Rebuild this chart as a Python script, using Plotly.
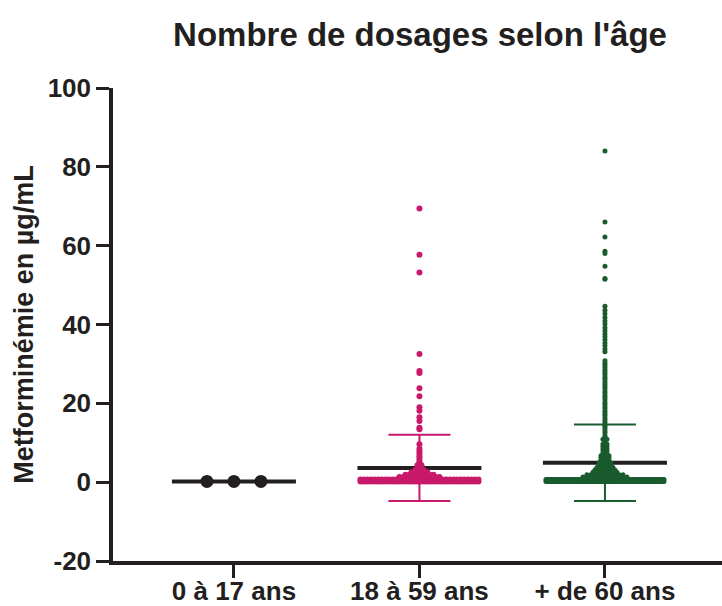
import plotly.graph_objects as go

# ---------------- data ----------------
age_groups = ["0 à 17 ans", "18 à 59 ans", "+ de 60 ans"]

# each value is a row of the scatter; count = number of dosages at that value
kids_vals = [0.2]
kids_counts = [3]

adult_vals = [0.2, 0.7, 1.3, 1.9, 2.5, 3.1, 3.7, 4.3, 4.9, 5.4, 6.0, 6.6, 7.2,
              7.8, 8.5, 9.6, 13.4, 13.8, 15.5, 16.5, 18.1, 19.0, 21.8, 23.8,
              27.7, 28.2, 32.5, 53.2, 57.7, 69.4]
adult_counts = [38, 34, 11, 8, 5, 3, 1, 2, 1, 1, 1, 1, 1,
                1, 1, 1, 1, 1, 1, 1, 1, 1, 1, 1,
                1, 1, 1, 1, 1, 1]

senior_vals = [0.2, 0.7, 1.3, 1.9, 2.5, 3.1, 3.7, 4.3, 4.9, 5.5, 6.1, 6.7, 7.3,
               7.9, 8.5, 9.1, 9.7, 10.3, 10.9, 11.4, 11.8, 12.5, 13.0, 13.6,
               14.1, 14.5, 15.2, 15.8, 16.3, 16.9, 17.4, 18.0, 18.6, 19.1,
               19.7, 20.2, 20.9, 21.5, 22.0, 22.6, 23.1, 23.8, 24.4, 24.9,
               25.5, 26.1, 26.6, 27.3, 27.8, 28.4, 29.0, 29.6, 30.2, 30.8,
               33.1, 33.8, 34.6, 35.3, 36.1, 36.9, 37.6, 38.4, 39.2, 40.1,
               40.9, 41.8, 42.7, 43.6, 44.6, 51.5, 51.7, 54.8, 58.0, 58.6,
               62.2, 66.0, 84.0]
senior_counts = [90, 80, 12, 10, 7, 6, 5, 4, 4, 3, 3, 3, 2,
                 2, 2, 2, 2, 1, 2, 1, 1, 1, 1, 1,
                 1, 1, 1, 1, 1, 1, 1, 1, 1, 1,
                 1, 1, 1, 1, 1, 1, 1, 1, 1, 1,
                 1, 1, 1, 1, 1, 1, 1, 1, 1, 1,
                 1, 1, 1, 1, 1, 1, 1, 1, 1, 1,
                 1, 1, 1, 1, 1, 1, 1, 1, 1, 1,
                 1, 1, 1]

group_means = [0.2, 3.6, 4.9]
group_sds = [0.0, 8.4, 9.7]

y_ticks = [-20, 0, 20, 40, 60, 80, 100]
y_tick_labels = ["-20", "0", "20", "40", "60", "80", "100"]

# ---------------- styling ----------------
W, H = 722, 606
ML, MR, MT, MB = 113, 0, 88, 45
X_RANGE = [-0.652, 2.631]
PX_PER_UNIT = (W - ML - MR) / (X_RANGE[1] - X_RANGE[0])

INK = "#231F20"
colors = [INK, "#C8196B", "#1A5B2E"]
marker_sizes = [13, 6, 5]
dot_step_px = [27, 4, 4]
HALF_BAND_PX = 59
MEAN_HALF_PX = 62
FONT = "Liberation Sans, Arial, Helvetica, sans-serif"

groups = [(kids_vals, kids_counts), (adult_vals, adult_counts),
          (senior_vals, senior_counts)]


def swarm(center, vals, counts, step_px):
    xs, ys = [], []
    for v, n in zip(vals, counts):
        step = step_px
        if n > 1:
            step = min(step_px, 2 * HALF_BAND_PX / (n - 1))
        for k in range(n):
            xs.append(center + (k - (n - 1) / 2) * step / PX_PER_UNIT)
            ys.append(v)
    return xs, ys


fig = go.Figure()

for i, (vals, counts) in enumerate(groups):
    # SD error bar
    fig.add_trace(go.Scatter(
        x=[i], y=[group_means[i]], mode="markers",
        marker=dict(size=1, color="rgba(0,0,0,0)"),
        error_y=dict(type="data", array=[group_sds[i]], symmetric=True,
                     color=colors[i], thickness=2, width=31),
        showlegend=False, hoverinfo="skip"))
    # mean line
    half = MEAN_HALF_PX / PX_PER_UNIT
    fig.add_trace(go.Scatter(
        x=[i - half, i + half], y=[group_means[i], group_means[i]],
        mode="lines", line=dict(color=INK, width=4),
        showlegend=False, hoverinfo="skip"))

for i, (vals, counts) in enumerate(groups):
    xs, ys = swarm(i, vals, counts, dot_step_px[i])
    fig.add_trace(go.Scatter(
        x=xs, y=ys, mode="markers",
        marker=dict(size=marker_sizes[i], color=colors[i], line=dict(width=0)),
        name=age_groups[i], showlegend=False))

fig.update_layout(
    width=W, height=H,
    margin=dict(l=ML, r=MR, t=MT, b=MB, autoexpand=False),
    paper_bgcolor="white", plot_bgcolor="white",
    font=dict(family=FONT, color=INK),
    title=dict(text="Nombre de dosages selon l'âge",
               font=dict(family=FONT, size=33, color=INK, weight="bold"),
               x=420 / W, xanchor="center", xref="container",
               y=1 - 34 / H, yanchor="middle", yref="container"),
)

fig.update_xaxes(
    range=X_RANGE, tickmode="array", tickvals=[0, 1, 2], ticktext=age_groups,
    showline=True, linewidth=3.5, linecolor=INK, mirror=False,
    ticks="outside", ticklen=13, tickwidth=3, tickcolor=INK,
    ticklabelstandoff=-9,
    tickfont=dict(family=FONT, size=26, color=INK, weight="bold"),
    showgrid=False, zeroline=False, fixedrange=True, automargin=False)

fig.update_yaxes(
    range=[-20, 100], tickmode="array", tickvals=y_ticks,
    ticktext=y_tick_labels,
    showline=True, linewidth=3.5, linecolor=INK,
    ticks="outside", ticklen=13, tickwidth=3, tickcolor=INK,
    tickfont=dict(family=FONT, size=26, color=INK, weight="bold"),
    title=dict(text="Metforminémie en µg/mL",
               font=dict(family=FONT, size=27, color=INK, weight="bold"),
               standoff=7),
    showgrid=False, zeroline=False, fixedrange=True, automargin=False)

fig.write_html(
    "out.html",
    config={"displayModeBar": False},
    post_script="document.body.style.margin='0';"
                "document.body.style.overflow='hidden';",
)
